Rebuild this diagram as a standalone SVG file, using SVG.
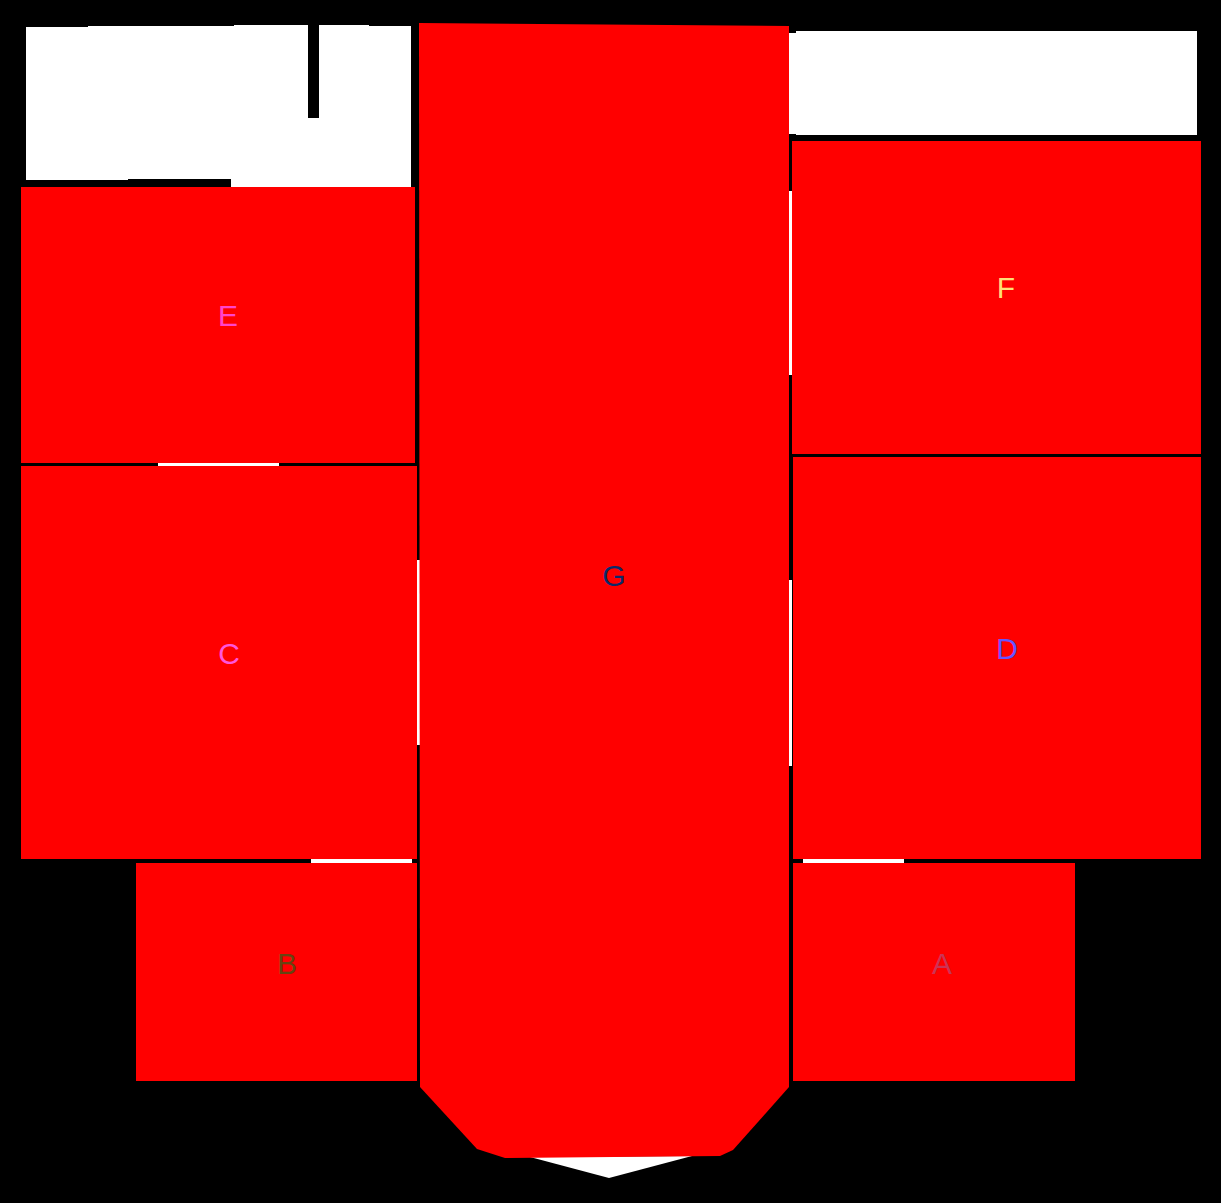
<svg xmlns="http://www.w3.org/2000/svg" width="1221" height="1203" viewBox="0 0 1221 1203">
<style>
.room{fill:#ff0000}
.void{fill:#ffffff}
.lbl{font-family:"Liberation Sans",Arial,sans-serif;font-size:30px;text-anchor:middle}
</style>
<rect x="0" y="0" width="1221" height="1203" fill="#000000"/>
<g id="outdoor">
<polygon class="void" points="26,27 88,27 88,26 234,26 234,25 308,25 308,118 319,118 319,25 369,25 369,26 411,26 411,187 231,187 231,179 128,179 128,180 26,180"/>
<polygon class="void" points="789,33 796,33 796,31 1197,31 1197,135 796,135 796,134 789,134"/>
<polygon class="void" points="530,1157 692,1156 609,1178"/>
<rect class="void" x="158" y="463" width="121" height="3"/>
<rect class="void" x="311" y="859" width="101" height="4"/>
<rect class="void" x="803" y="859" width="101" height="4"/>
<rect class="void" x="789" y="191" width="3" height="184"/>
<rect class="void" x="789" y="580" width="3" height="186"/>
<rect class="void" x="417" y="560" width="3" height="185"/>
</g>
<g id="E"><rect class="room" x="21" y="187" width="394" height="276"/><text class="lbl" x="228" y="326" fill="#ff44cc">E</text></g>
<g id="C"><rect class="room" x="21" y="466" width="396" height="393"/><text class="lbl" x="229" y="664" fill="#ff55dd">C</text></g>
<g id="B"><rect class="room" x="136" y="863" width="281" height="218"/><text class="lbl" x="287" y="974" fill="#664411">B</text></g>
<g id="G"><polygon class="room" points="419,23 789,26 789,1087 733,1150 720,1156 505,1158 477,1149 420,1087"/><text class="lbl" x="614" y="586" fill="#0a2a6a">G</text></g>
<g id="F"><rect class="room" x="792" y="141" width="409" height="313"/><text class="lbl" x="1006" y="298" fill="#ffdd77">F</text></g>
<g id="D"><rect class="room" x="793" y="457" width="408" height="402"/><text class="lbl" x="1007" y="659" fill="#6655ff">D</text></g>
<g id="A"><rect class="room" x="793" y="863" width="282" height="218"/><text class="lbl" x="942" y="974" fill="#cc3355">A</text></g>
<g id="connectors"></g>
</svg>
